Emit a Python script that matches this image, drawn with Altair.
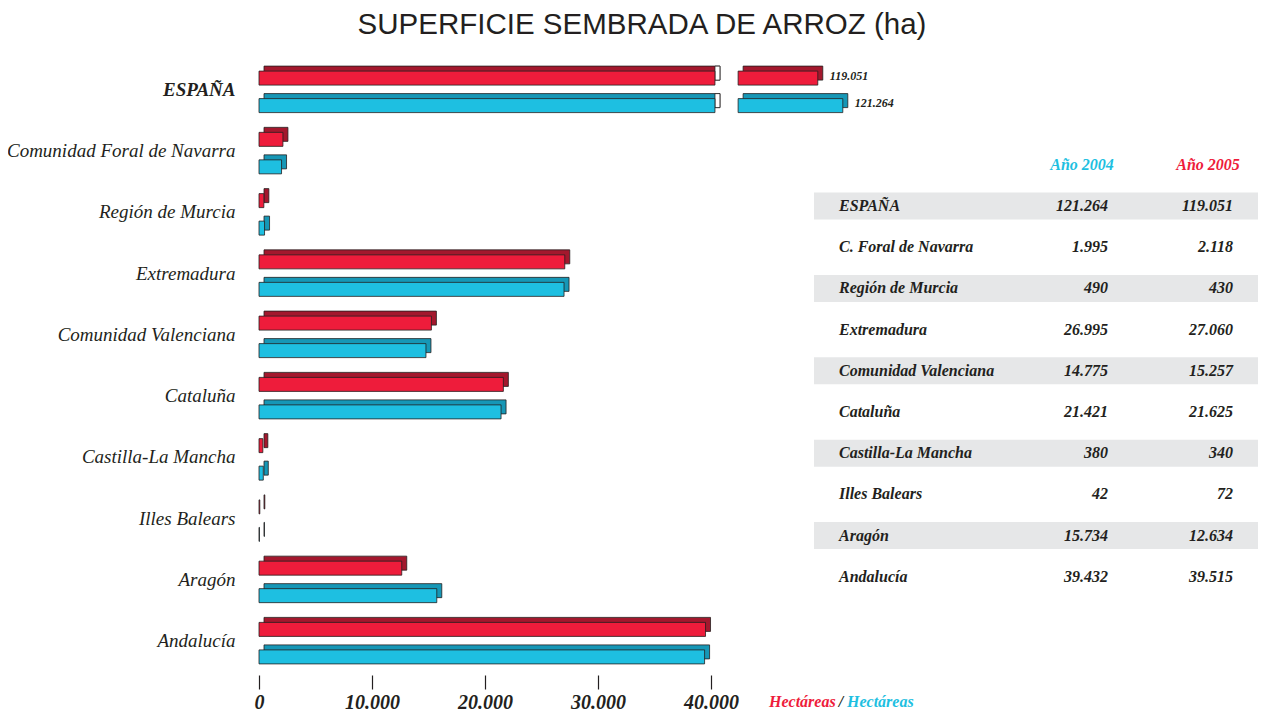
import altair as alt
import pandas as pd

# ---------------- data ----------------
title_text = ["SUPERFICIE SEMBRADA DE ARROZ (ha)"]
regions = ["ESPAÑA", "Comunidad Foral de Navarra", "Región de Murcia", "Extremadura",
           "Comunidad Valenciana", "Cataluña", "Castilla-La Mancha", "Illes Balears",
           "Aragón", "Andalucía"]
table_names = ["ESPAÑA", "C. Foral de Navarra", "Región de Murcia", "Extremadura",
               "Comunidad Valenciana", "Cataluña", "Castilla-La Mancha", "Illes Balears",
               "Aragón", "Andalucía"]
values_2004 = [121264, 1995, 490, 26995, 14775, 21421, 380, 42, 15734, 39432]
values_2005 = [119051, 2118, 430, 27060, 15257, 21625, 340, 72, 12634, 39515]
year_headers = ["Año 2004", "Año 2005"]
axis_ticks = [0, 10000, 20000, 30000, 40000]
unit_words = ["Hectáreas", "/", "Hectáreas"]

RED, RED_DARK = "#ee1c3b", "#a3182d"
CYAN, CYAN_DARK = "#1ebfe1", "#1697b6"
INK = "#231f20"
BAND = "#e6e7e8"
SERIF = "Liberation Serif"

# broken axis for the national totals
BREAK_END = 40350      # first segment stops here
RESUME_AT = 42400      # second segment starts at this scale position
RESUME_VALUE = 112000  # ...which stands for this value


def es(v):
    return f"{v:,}".replace(",", ".")


rows = []
for region, v04, v05 in zip(regions, values_2004, values_2005):
    for year, v in (("2005", v05), ("2004", v04)):
        if v > 100000:
            rows.append(dict(region=region, year=year, x0=0, x1=BREAK_END, cut=True, label=""))
            rows.append(dict(region=region, year=year, x0=RESUME_AT,
                             x1=RESUME_AT + v - RESUME_VALUE, cut=False, label=es(v)))
        else:
            rows.append(dict(region=region, year=year, x0=0, x1=v, cut=False, label=""))
bars = pd.DataFrame(rows)

table = pd.DataFrame({"name": table_names,
                      "v04": [es(v) for v in values_2004],
                      "v05": [es(v) for v in values_2005],
                      "striped": [i % 2 == 0 for i in range(len(table_names))]})

# ---------------- scales / axes ----------------
x_scale = alt.Scale(domain=[0, 88407], nice=False, zero=True)
x_axis = alt.Axis(values=axis_ticks, domain=False, grid=False, ticks=True, tickSize=14,
                  tickColor=INK, tickWidth=1.2, labelFont=SERIF, labelFontSize=20,
                  labelFontStyle="italic", labelFontWeight="bold", labelColor=INK,
                  labelPadding=13, labelBaseline="middle", labelFlush=False,
                  labelOverlap=False, format=",d",
                  labelExpr="replace(datum.label, ',', '.')", title=None)
y_scale = alt.Scale(domain=regions, paddingInner=0, paddingOuter=0.02)
y_axis = alt.Axis(domain=False, ticks=False, grid=False, labelPadding=24,
                  labelFont=SERIF, labelFontSize=19, labelFontStyle="italic",
                  labelColor=INK, labelLimit=400, labelOffset=-2,
                  labelFontWeight={"condition": {"test": "datum.value === 'ESPAÑA'",
                                                 "value": "bold"}, "value": "normal"},
                  title=None)

X = alt.X("x0:Q", scale=x_scale, axis=x_axis)
X2 = alt.X2("x1:Q")
Y = alt.Y("region:N", scale=y_scale, axis=y_axis, sort=regions)

base = alt.Chart(bars)
SUB = 13.75
H = 14
D = 5

layers = []
for year, off, front, back in (("2005", -SUB, RED, RED_DARK), ("2004", SUB, CYAN, CYAN_DARK)):
    sel = base.transform_filter(alt.datum.year == year)
    layers.append(sel.mark_bar(size=H, yOffset=off - D, xOffset=D, x2Offset=D, fill=back,
                               stroke=INK, strokeWidth=0.8).encode(x=X, x2=X2, y=Y))
    layers.append(sel.transform_filter(alt.datum.cut).mark_bar(
        size=H, yOffset=off - D, x2Offset=D, fill="white", stroke=INK, strokeWidth=0.8
    ).encode(x=alt.X("x1:Q", scale=x_scale), x2=X2, y=Y))
    layers.append(sel.mark_bar(size=H, yOffset=off, fill=front, stroke=INK,
                               strokeWidth=0.8).encode(x=X, x2=X2, y=Y))
    layers.append(sel.transform_filter(alt.datum.label != "").mark_text(
        align="left", baseline="middle", dx=12, yOffset=off - 2.5, font=SERIF, fontSize=12,
        fontStyle="italic", fontWeight="bold", color=INK
    ).encode(x=alt.X("x1:Q", scale=x_scale), y=Y, text="label:N"))

bar_part = alt.layer(*layers)

# ---------------- table ----------------
t_scale = alt.Scale(domain=table_names, range=[125.4, 537.4], paddingInner=0.345,
                    paddingOuter=0.1725)
TY = alt.Y("name:N", scale=t_scale, axis=None, sort=table_names)
tbase = alt.Chart(table)
tfont = dict(font=SERIF, fontSize=16, fontStyle="italic", fontWeight="bold", baseline="middle")
band_layer = tbase.transform_filter(alt.datum.striped).mark_rect(fill=BAND, strokeWidth=0).encode(
    y=TY, x=alt.value(555), x2=alt.value(999))
name_layer = tbase.mark_text(align="left", color=INK, **tfont).encode(
    y=TY, x=alt.value(580), text="name:N")
v04_layer = tbase.mark_text(align="right", color=INK, **tfont).encode(
    y=TY, x=alt.value(849), text="v04:N")
v05_layer = tbase.mark_text(align="right", color=INK, **tfont).encode(
    y=TY, x=alt.value(974), text="v05:N")
hdr = pd.DataFrame({"h": year_headers})
h04 = alt.Chart(hdr).transform_filter(alt.datum.h == year_headers[0]).mark_text(
    align="center", color=CYAN, **tfont).encode(x=alt.value(823), y=alt.value(105), text="h:N")
h05 = alt.Chart(hdr).transform_filter(alt.datum.h == year_headers[1]).mark_text(
    align="center", color=RED, **tfont).encode(x=alt.value(949), y=alt.value(105), text="h:N")
table_part = alt.layer(band_layer, name_layer, v04_layer, v05_layer, h04, h05)

# ---------------- title and unit note ----------------
title_layer = alt.Chart(pd.DataFrame({"t": title_text})).mark_text(
    font="Liberation Sans", fontSize=29.5, color=INK, align="center", baseline="middle"
).encode(x=alt.value(383), y=alt.value(-35), text="t:N")

units = pd.DataFrame({"w": unit_words, "k": [0, 1, 2]})
ufont = dict(font=SERIF, fontSize=16, fontStyle="italic", fontWeight="bold", baseline="middle")
UY = 642
u1 = alt.Chart(units).transform_filter(alt.datum.k == 0).mark_text(
    align="left", color=RED, **ufont).encode(x=alt.value(510), y=alt.value(UY), text="w:N")
u2 = alt.Chart(units).transform_filter(alt.datum.k == 1).mark_text(
    align="center", color=INK, **ufont).encode(x=alt.value(582), y=alt.value(UY), text="w:N")
u3 = alt.Chart(units).transform_filter(alt.datum.k == 2).mark_text(
    align="left", color=CYAN, **ufont).encode(x=alt.value(588), y=alt.value(UY), text="w:N")

chart = alt.layer(bar_part, table_part, title_layer, u1, u2, u3).resolve_scale(
    y="independent"
).properties(
    width=999, height=615,
    padding={"left": 251, "top": 52, "right": 0, "bottom": 38},
    autosize=alt.AutoSizeParams(type="none"),
    background="white",
).configure_view(strokeWidth=0)

chart.save("out.html", embed_options={"renderer": "svg", "actions": False})
